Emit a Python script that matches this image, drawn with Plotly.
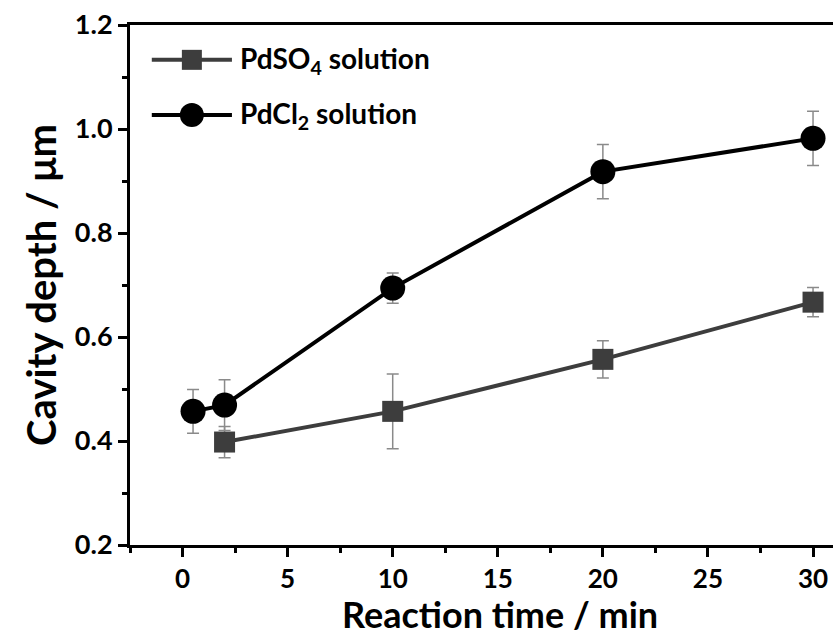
import plotly.graph_objects as go

# Reaction time (min) and cavity depth (µm) with standard deviations
time_so4 = [2, 10, 20, 30]
depth_so4 = [0.398, 0.457, 0.557, 0.667]
err_so4 = [0.030, 0.072, 0.036, 0.028]

time_cl2 = [0.5, 2, 10, 20, 30]
depth_cl2 = [0.457, 0.469, 0.694, 0.918, 0.982]
err_cl2 = [0.042, 0.049, 0.029, 0.052, 0.052]

x_ticks = [0, 5, 10, 15, 20, 25, 30]
y_ticks = [0.2, 0.4, 0.6, 0.8, 1.0, 1.2]

FONT = "Lato"
GREY = "#3d3d3d"

fig = go.Figure()

fig.add_trace(go.Scatter(
    x=time_so4, y=depth_so4, mode="lines+markers",
    line=dict(color=GREY, width=4),
    marker=dict(symbol="square", size=21, color=GREY),
    error_y=dict(type="data", array=err_so4, color="#8a8a8a", thickness=1.5, width=6),
    showlegend=False,
))
fig.add_trace(go.Scatter(
    x=time_cl2, y=depth_cl2, mode="lines+markers",
    line=dict(color="black", width=4),
    marker=dict(symbol="circle", size=25, color="black"),
    error_y=dict(type="data", array=err_cl2, color="#8a8a8a", thickness=1.5, width=6),
    showlegend=False,
))

# Hand-drawn legend in paper coordinates
shapes = []
annotations = []
legend_rows = [
    (0.933, GREY, "square", "PdSO<sub>4</sub> solution"),
    (0.827, "black", "circle", "PdCl<sub>2</sub> solution"),
]
for yp, col, sym, label in legend_rows:
    shapes.append(dict(type="line", xref="paper", yref="paper",
                       x0=0.031, x1=0.145, y0=yp, y1=yp,
                       line=dict(color=col, width=4)))
    half = 10 if sym == "square" else 12
    shapes.append(dict(type="rect" if sym == "square" else "circle",
                       xref="paper", yref="paper",
                       xsizemode="pixel", ysizemode="pixel",
                       xanchor=0.088, yanchor=yp,
                       x0=-half, x1=half, y0=-half, y1=half,
                       fillcolor=col, line=dict(color=col, width=0)))
    annotations.append(dict(xref="paper", yref="paper", x=0.153, y=yp,
                            xanchor="left", yanchor="middle", showarrow=False,
                            text="<b>" + label + "</b>",
                            font=dict(family=FONT, size=28, color="black")))

# x-axis title placed as an annotation below the tick labels
annotations.append(dict(xref="paper", yref="paper", x=0.526, y=-0.133,
                        xanchor="center", yanchor="middle", showarrow=False,
                        text="<b>Reaction time / min</b>",
                        font=dict(family=FONT, size=36, color="black")))

fig.update_layout(
    width=833, height=642,
    margin=dict(l=130, r=0, t=25, b=97),
    paper_bgcolor="white", plot_bgcolor="white",
    shapes=shapes, annotations=annotations,
    font=dict(family=FONT, color="black"),
)

fig.update_xaxes(
    range=[-2.5, 30.95], tickvals=x_ticks,
    ticktext=[f"<b>{v}</b>" for v in x_ticks],
    tickfont=dict(family=FONT, size=26, color="black"),
    ticks="outside", ticklen=9, tickwidth=3, tickcolor="black",
    minor=dict(dtick=2.5, tick0=0, ticks="outside", ticklen=5, tickwidth=3, tickcolor="black"),
    showline=True, linewidth=3, linecolor="black", mirror=True,
    showgrid=False, zeroline=False,
)
fig.update_yaxes(
    range=[0.2, 1.2], tickvals=y_ticks,
    ticktext=[f"<b>{v:.1f}</b>" for v in y_ticks],
    tickfont=dict(family=FONT, size=27, color="black"),
    ticks="outside", ticklen=9, tickwidth=3, tickcolor="black",
    minor=dict(dtick=0.1, tick0=0.2, ticks="outside", ticklen=5, tickwidth=3, tickcolor="black"),
    showline=True, linewidth=3, linecolor="black", mirror=False,
    showgrid=False, zeroline=False,
    title=dict(text="<b>Cavity depth / μm</b>", font=dict(family=FONT, size=40, color="black"), standoff=6),
)

fig.write_html("out.html")
